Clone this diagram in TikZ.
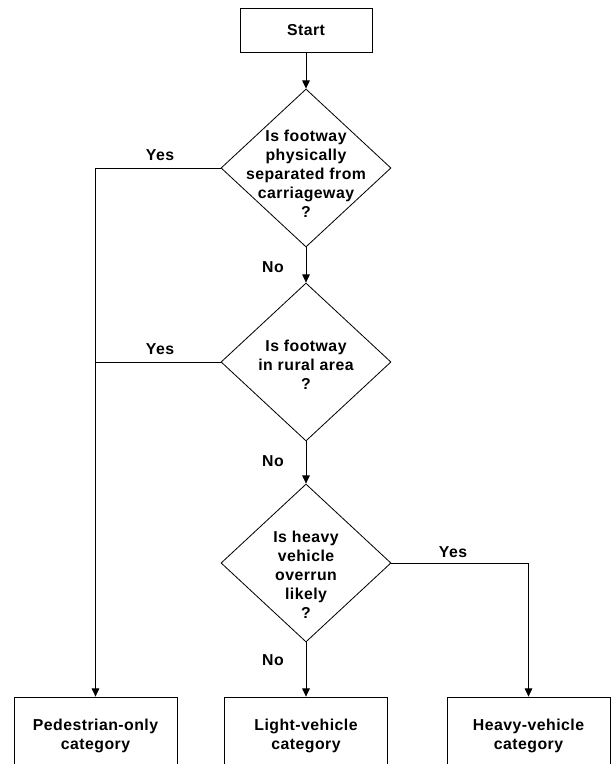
\documentclass[tikz,border=0pt]{standalone}
\usepackage{fontspec}
\setmainfont{Liberation Sans}[LetterSpace=3]
\usetikzlibrary{shapes.geometric,arrows.meta}

\begin{document}
\begin{tikzpicture}[x=0.03cm,y=-0.03cm,
  every node/.style={font=\fontsize{13.5}{16.2}\selectfont\bfseries},
  box/.style={draw,line width=0.7pt,minimum width=3.96cm,minimum height=1.32cm,inner sep=0pt},
  catbox/.style={box,minimum width=4.89cm,minimum height=2.34cm,align=center},
  decision/.style={draw,line width=0.7pt,diamond,aspect=1.076,minimum width=5.1cm,minimum height=4.74cm,inner sep=0pt},
  qtext/.style={align=center,inner sep=0pt},
  arrow/.style={line width=0.7pt,-{Triangle[length=7pt,width=6.5pt]}},
  link/.style={line width=0.7pt}]
\clip (0,0) rectangle (611,764);

\node[box] (start) at (306,30) {Start};

\node[decision] (d1) at (306,168) {};
\node[qtext] at (306,174) {Is footway\\physically\\separated from\\carriageway\\?};

\node[decision] (d2) at (306,362) {};
\node[qtext] at (306,365) {Is footway\\in rural area\\?};

\node[decision] (d3) at (306,563) {};
\node[qtext] at (306,575) {Is heavy\\vehicle\\overrun\\likely\\?};

\node[catbox] (ped) at (95.5,736) {Pedestrian-only\\category};
\node[catbox] (light) at (306,736) {Light-vehicle\\category};
\node[catbox] (heavy) at (528.5,736) {Heavy-vehicle\\category};

\draw[arrow] (start) -- (d1);
\draw[arrow] (d1) -- (d2);
\draw[arrow] (d2) -- (d3);
\draw[arrow] (d3) -- (light);
\draw[arrow] (d1.west) -| (ped.north);
\draw[link] (d2.west) -- (d2.west -| ped.north);
\draw[arrow] (d3.east) -| (heavy.north);

\node (yes1) at (160,155) {Yes};
\node (yes2) at (160,349) {Yes};
\node (yes3) at (453,552) {Yes};
\node (no1) at (273,267) {No};
\node (no2) at (273,461) {No};
\node (no3) at (273,660) {No};
\end{tikzpicture}
\end{document}
